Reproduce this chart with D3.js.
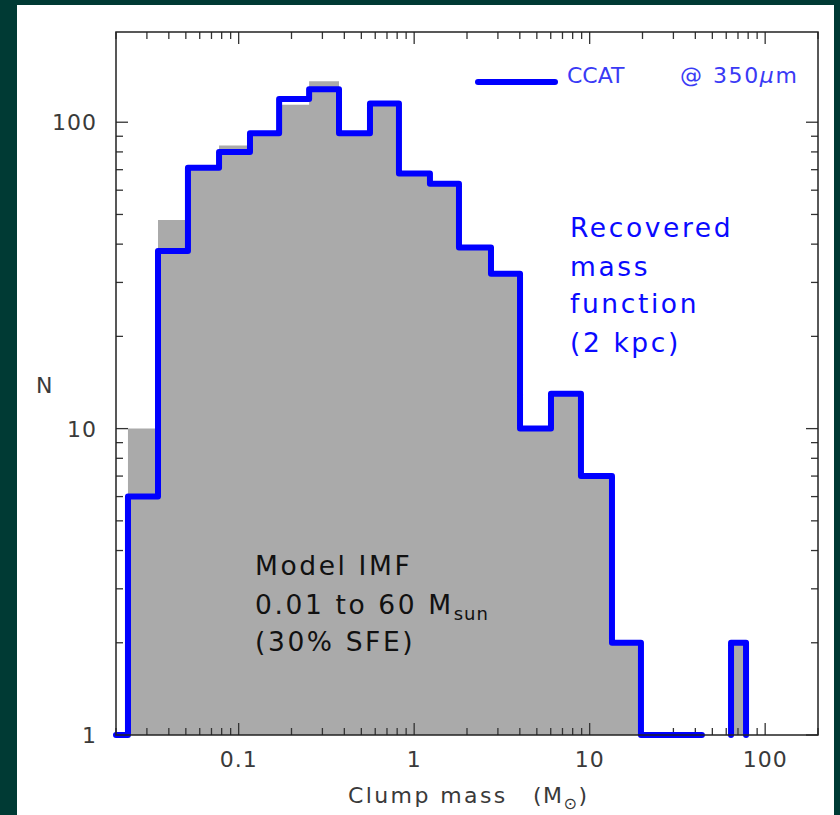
<!DOCTYPE html>
<html><head><meta charset="utf-8">
<script src="https://cdn.jsdelivr.net/npm/d3@7"></script>
<style>
html,body{margin:0;padding:0;background:#003a34;}
svg{display:block;}
text{font-family:"DejaVu Sans",Verdana,sans-serif;}
</style></head>
<body><svg id="chart" width="840" height="815"></svg>
<script>
// ---- data ----
const binEdges = [0.0234, 0.0347, 0.0514, 0.0773, 0.116, 0.170, 0.252, 0.373, 0.560, 0.819, 1.23, 1.80, 2.74, 4.01, 6.02, 8.92, 13.4, 19.6, 29.4, 43.6];
const modelCounts =     [10, 48, 71, 84, 92, 114, 136, 92, 115, 68, 63, 39, 32, 10, 13, 7, 2, 0, 0];
const recoveredCounts = [ 6, 38, 71, 80, 92, 119, 128, 92, 115, 68, 63, 39, 32, 10, 13, 7, 2, 1, 1];
const highBinEdges = [63.9, 77.8];
const modelHigh = [2];
const recoveredHigh = [2];
const xTickValues = [0.1, 1, 10, 100];
const xTickLabels = ["0.1", "1", "10", "100"];
const yTickValues = [1, 10, 100];
const yTickLabels = ["1", "10", "100"];
const xDomain = [0.02, 200];
const yDomain = [1, 197];
const recoveredText = ["Recovered", "mass", "function", "(2 kpc)"];
const modelText = ["Model IMF", "0.01 to 60 M", "(30% SFE)"];

// ---- layout ----
const L = 116, R = 818, T = 32, B = 735;
const svg = d3.select("#chart");
svg.append("rect").attr("x",0).attr("y",0).attr("width",840).attr("height",815).attr("fill","#003a34");
svg.append("rect").attr("x",17).attr("y",5).attr("width",817).attr("height",810).attr("fill","#ffffff");

const x = d3.scaleLog().domain(xDomain).range([L, R]);
const y = d3.scaleLog().domain(yDomain).range([B, T]);

// gray model histogram as a single path (no seams)
const gp = d3.path();
let open = false;
modelCounts.forEach((c, i) => {
  const x0 = x(binEdges[i]), x1 = x(binEdges[i+1]);
  if (c > 0) {
    if (!open) { gp.moveTo(x0, y(1)); open = true; }
    gp.lineTo(x0, y(c)); gp.lineTo(x1, y(c));
  } else if (open) { gp.lineTo(x0, y(1)); gp.closePath(); open = false; }
});
if (open) { gp.lineTo(x(binEdges[binEdges.length-1]), y(1)); gp.closePath(); }
modelHigh.forEach((c, i) => {
  const x0 = x(highBinEdges[i]), x1 = x(highBinEdges[i+1]);
  gp.moveTo(x0, y(1)); gp.lineTo(x0, y(c)); gp.lineTo(x1, y(c)); gp.lineTo(x1, y(1)); gp.closePath();
});
svg.append("path").attr("d", gp.toString()).attr("fill", "#aaaaaa");

// axes ticks
const ax = svg.append("g");
const tickCol = "#333";
function logTicks(domain) {
  const out = [];
  const lo = Math.floor(Math.log10(domain[0])), hi = Math.ceil(Math.log10(domain[1]));
  for (let e = lo; e <= hi; e++) for (let m = 1; m <= 9; m++) {
    const v = m * Math.pow(10, e);
    if (v >= domain[0] * 0.9999 && v <= domain[1] * 1.0001) out.push({v, major: m === 1});
  }
  return out;
}
logTicks(xDomain).forEach(t => {
  const px = x(t.v), len = t.major ? 12 : 7;
  ax.append("line").attr("x1",px).attr("x2",px).attr("y1",B).attr("y2",B-len).attr("stroke",tickCol).attr("stroke-width",1.3);
  ax.append("line").attr("x1",px).attr("x2",px).attr("y1",T).attr("y2",T+len).attr("stroke",tickCol).attr("stroke-width",1.3);
});
logTicks(yDomain).forEach(t => {
  const py = y(t.v), len = t.major ? 12 : 7;
  ax.append("line").attr("x1",L).attr("x2",L+len).attr("y1",py).attr("y2",py).attr("stroke",tickCol).attr("stroke-width",1.3);
  ax.append("line").attr("x1",R).attr("x2",R-len).attr("y1",py).attr("y2",py).attr("stroke",tickCol).attr("stroke-width",1.3);
});

// blue recovered histogram
const blue = "#0000ff";
const pts = [[x.domain()[0], 1], [binEdges[0], 1]];
recoveredCounts.forEach((c, i) => {
  pts.push([binEdges[i], c]);
  pts.push([binEdges[i+1], c]);
});
pts.push([binEdges[binEdges.length-1], 1]);
const line = d3.line().x(d => x(d[0])).y(d => y(d[1]));
svg.append("path").attr("d", line(pts)).attr("fill","none").attr("stroke",blue)
  .attr("stroke-width",6).attr("stroke-linejoin","round").attr("stroke-linecap","round");
recoveredHigh.forEach((c, i) => {
  const p = [[highBinEdges[i],1],[highBinEdges[i],c],[highBinEdges[i+1],c],[highBinEdges[i+1],1]];
  svg.append("path").attr("d", line(p)).attr("fill","none").attr("stroke",blue)
    .attr("stroke-width",6).attr("stroke-linejoin","round").attr("stroke-linecap","round");
});

svg.append("rect").attr("x",L).attr("y",T).attr("width",R-L).attr("height",B-T)
  .attr("fill","none").attr("stroke","#222").attr("stroke-width",1.5);

// tick labels
const lab = "#3a3a3a";
xTickValues.forEach((v, i) => {
  svg.append("text").attr("x", x(v)).attr("y", 767).attr("text-anchor","middle")
    .attr("font-size",22).attr("fill",lab).attr("letter-spacing",1).text(xTickLabels[i]);
});
yTickValues.forEach((v, i) => {
  svg.append("text").attr("x", 97).attr("y", y(v) + 8).attr("text-anchor","end")
    .attr("font-size",22).attr("fill",lab).attr("letter-spacing",1).text(yTickLabels[i]);
});
svg.append("text").attr("x",36).attr("y",393).attr("font-size",22).attr("fill",lab).text("N");
svg.append("text").attr("x",348).attr("y",803).attr("font-size",22).attr("fill",lab)
  .attr("letter-spacing",2.4).text("Clump mass");
const xl = svg.append("text").attr("x",533).attr("y",803).attr("font-size",22).attr("fill",lab).attr("letter-spacing",1.5);
xl.append("tspan").text("(M");
xl.append("tspan").attr("dy",6).attr("font-size",16).text("\u2299");
xl.append("tspan").attr("dy",-6).text(")");

// legend
svg.append("line").attr("x1",478).attr("x2",555).attr("y1",82).attr("y2",82)
  .attr("stroke",blue).attr("stroke-width",6).attr("stroke-linecap","round");
svg.append("text").attr("x",567).attr("y",83).attr("font-size",22).attr("fill","#3a3af5").text("CCAT");
const lg = svg.append("text").attr("x",680).attr("y",83).attr("font-size",22).attr("fill","#3a3af5").attr("letter-spacing",1.6);
lg.append("tspan").text("@");
lg.append("tspan").attr("x",713).text("350");
lg.append("tspan").attr("font-style","italic").text("\u03bc");
lg.append("tspan").text("m");

// annotations
const recY = [237, 276, 313, 352];
recoveredText.forEach((t, i) => {
  svg.append("text").attr("x",570).attr("y",recY[i]).attr("font-size",26.5)
    .attr("letter-spacing",2.6).attr("fill","#0a0aff").text(t);
});
const modY = [575, 614, 651];
modelText.forEach((t, i) => {
  const tx = svg.append("text").attr("x",255).attr("y",modY[i]).attr("font-size",26.5)
    .attr("letter-spacing",2.6).attr("fill","#111");
  tx.append("tspan").text(t);
  if (i === 1) tx.append("tspan").attr("dy",6).attr("font-size",18).attr("letter-spacing",1).text("sun");
});
</script></body></html>
